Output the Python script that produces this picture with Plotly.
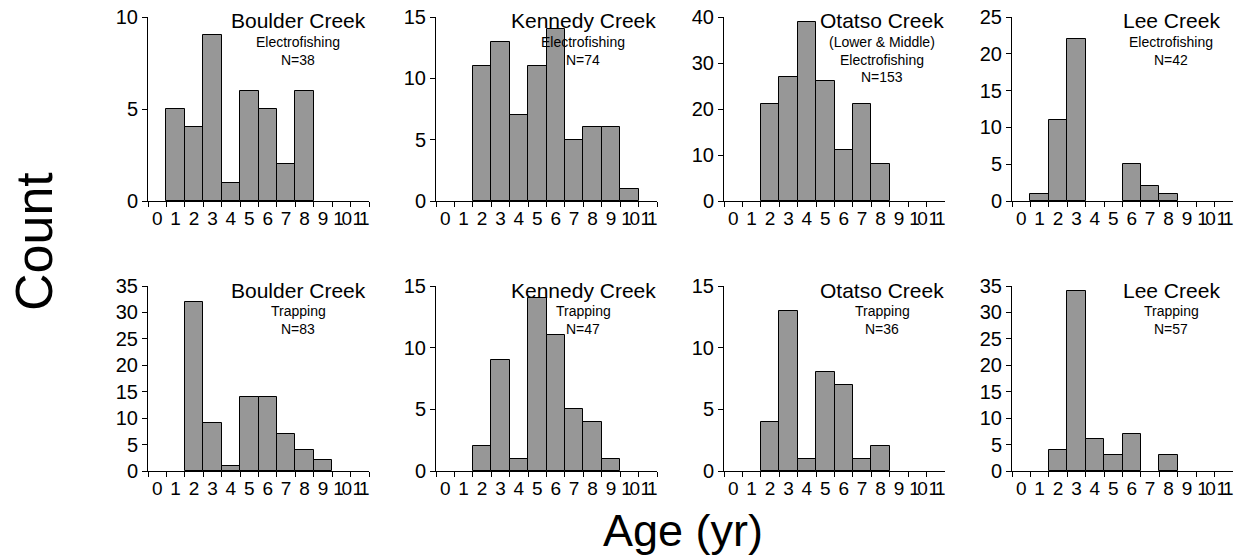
import plotly.graph_objects as go

# Age categories shown on every x axis
age_labels = [str(a) for a in range(12)]
# Two-digit ages are set tighter so they fit their narrow slots
age_ticktext = [
    f"<span style='letter-spacing:-2.5px'>{a}</span>" if len(a) > 1 else a
    for a in age_labels
]

# Electrofishing samples (ages and counts per creek)
boulder_e_ages = [1, 2, 3, 4, 5, 6, 7, 8]
boulder_e_counts = [5, 4, 9, 1, 6, 5, 2, 6]
kennedy_e_ages = [2, 3, 4, 5, 6, 7, 8, 9, 10]
kennedy_e_counts = [11, 13, 7, 11, 14, 5, 6, 6, 1]
otatso_e_ages = [2, 3, 4, 5, 6, 7, 8]
otatso_e_counts = [21, 27, 39, 26, 11, 21, 8]
lee_e_ages = [1, 2, 3, 6, 7, 8]
lee_e_counts = [1, 11, 22, 5, 2, 1]

# Trapping samples
boulder_t_ages = [2, 3, 4, 5, 6, 7, 8, 9]
boulder_t_counts = [32, 9, 1, 14, 14, 7, 4, 2]
kennedy_t_ages = [2, 3, 4, 5, 6, 7, 8, 9]
kennedy_t_counts = [2, 9, 1, 14, 11, 5, 4, 1]
otatso_t_ages = [2, 3, 4, 5, 6, 7, 8]
otatso_t_counts = [4, 13, 1, 8, 7, 1, 2]
lee_t_ages = [2, 3, 4, 5, 6, 8]
lee_t_counts = [4, 34, 6, 3, 7, 3]

creek_names = ["Boulder Creek", "Kennedy Creek", "Otatso Creek", "Lee Creek"]
top_subtitles = [
    ["Electrofishing", "N=38"],
    ["Electrofishing", "N=74"],
    ["(Lower & Middle)", "Electrofishing", "N=153"],
    ["Electrofishing", "N=42"],
]
bottom_subtitles = [
    ["Trapping", "N=83"],
    ["Trapping", "N=47"],
    ["Trapping", "N=36"],
    ["Trapping", "N=57"],
]
top_ymax = [10, 15, 40, 25]
top_ystep = [5, 5, 10, 5]
bottom_ymax = [35, 15, 15, 35]
bottom_ystep = [5, 5, 5, 5]

top_series = [
    (boulder_e_ages, boulder_e_counts),
    (kennedy_e_ages, kennedy_e_counts),
    (otatso_e_ages, otatso_e_counts),
    (lee_e_ages, lee_e_counts),
]
bottom_series = [
    (boulder_t_ages, boulder_t_counts),
    (kennedy_t_ages, kennedy_t_counts),
    (otatso_t_ages, otatso_t_counts),
    (lee_t_ages, lee_t_counts),
]

# Page geometry (pixels)
W, H = 1238, 556
col_left = [148, 436, 724, 1012]
col_width = 221
row_top = [17, 286]
row_bottom = [201, 471]
title_cx = [298, 583, 882, 1171]

FONT = "Liberation Sans, Arial, Helvetica, sans-serif"
BAR_FILL = "#979797"

fig = go.Figure()
annotations = []


def px_x(p):
    return p / W


def px_y(p):
    return 1 - p / H


idx = 0
for r, (series_row, subs_row, ymaxs, ysteps) in enumerate([
    (top_series, top_subtitles, top_ymax, top_ystep),
    (bottom_series, bottom_subtitles, bottom_ymax, bottom_ystep),
]):
    for c in range(4):
        idx += 1
        xa = "x" if idx == 1 else f"x{idx}"
        ya = "y" if idx == 1 else f"y{idx}"
        ages, counts = series_row[c]
        fig.add_trace(go.Bar(
            x=[str(a) for a in ages], y=counts,
            xaxis=xa, yaxis=ya,
            marker=dict(color=BAR_FILL, line=dict(color="#000000", width=1)),
            showlegend=False, hoverinfo="x+y",
        ))
        xkey = "xaxis" if idx == 1 else f"xaxis{idx}"
        ykey = "yaxis" if idx == 1 else f"yaxis{idx}"
        fig.update_layout({
            xkey: dict(
                domain=[px_x(col_left[c]), px_x(col_left[c] + col_width)],
                anchor=ya, type="category", automargin=False,
                categoryorder="array", categoryarray=age_labels,
                tickvals=age_labels, ticktext=age_ticktext,
                range=[-0.5, 11.5], tickson="boundaries",
                ticks="outside", ticklen=5, tickcolor="#000",
                tickangle=0, showline=True, linecolor="#000", linewidth=1,
                showgrid=False, zeroline=False, fixedrange=True,
                tickfont=dict(family=FONT, size=19, color="#000"),
            ),
            ykey: dict(
                domain=[px_y(row_bottom[r]), px_y(row_top[r])],
                anchor=xa, range=[0, ymaxs[c]], automargin=False,
                tickmode="linear", tick0=0, dtick=ysteps[c],
                ticks="outside", ticklen=5, tickcolor="#000",
                showline=True, linecolor="#000", linewidth=1,
                showgrid=False, zeroline=False, fixedrange=True,
                tickfont=dict(family=FONT, size=20, color="#000"),
            ),
        })

        top = row_top[r]
        annotations.append(dict(
            text=creek_names[c], xref="paper", yref="paper",
            x=px_x(title_cx[c]), y=px_y(top + 4),
            xanchor="center", yanchor="middle", showarrow=False,
            font=dict(family=FONT, size=21, color="#000"),
        ))
        for k, line in enumerate(subs_row[c]):
            annotations.append(dict(
                text=line, xref="paper", yref="paper",
                x=px_x(title_cx[c]), y=px_y(top + 25 + 17.5 * k),
                xanchor="center", yanchor="middle", showarrow=False,
                font=dict(family=FONT, size=14, color="#000"),
            ))

annotations.append(dict(
    text="Count", xref="paper", yref="paper",
    x=px_x(34), y=px_y(242), textangle=-90,
    xanchor="center", yanchor="middle", showarrow=False,
    font=dict(family=FONT, size=52, color="#000"),
))
annotations.append(dict(
    text="Age (yr)", xref="paper", yref="paper",
    x=px_x(683), y=px_y(530),
    xanchor="center", yanchor="middle", showarrow=False,
    font=dict(family=FONT, size=45, color="#000"),
))

fig.update_layout(
    width=W, height=H,
    margin=dict(l=0, r=0, t=0, b=0),
    paper_bgcolor="#ffffff", plot_bgcolor="#ffffff",
    bargap=0, annotations=annotations,
    font=dict(family=FONT, color="#000"),
)

fig.write_html("out.html")
